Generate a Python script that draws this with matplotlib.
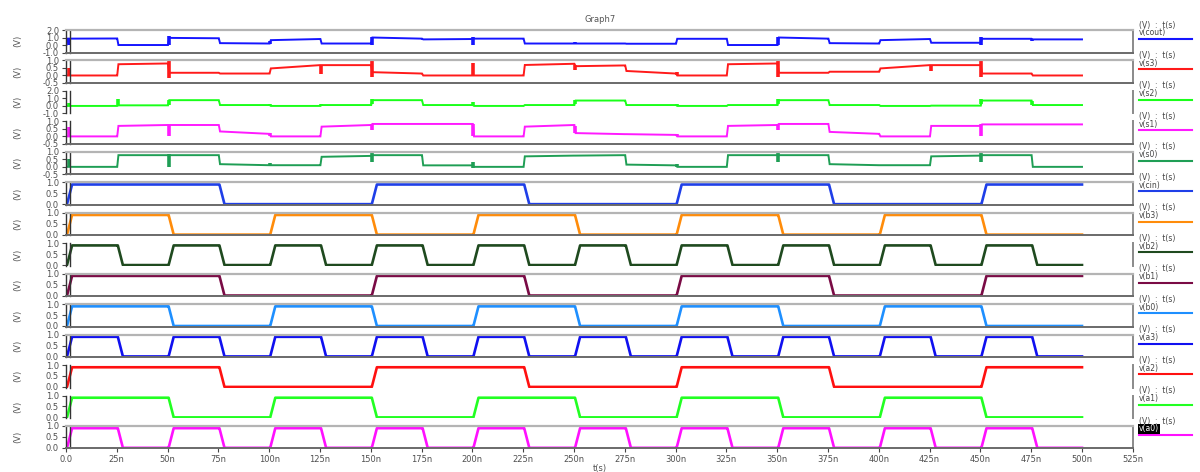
import numpy as np
import matplotlib
matplotlib.use("Agg")
import matplotlib.pyplot as plt
from matplotlib.lines import Line2D

SLOT = 25.0  # ns per input step

# input bits, one per 25 ns step (0..500 ns)
a0 = [1, 0, 1, 0, 1, 0, 1, 0, 1, 0, 1, 0, 1, 0, 1, 0, 1, 0, 1, 0]
a1 = [1, 1, 0, 0, 1, 1, 0, 0, 1, 1, 0, 0, 1, 1, 0, 0, 1, 1, 0, 0]
a2 = [1, 1, 1, 0, 0, 0, 1, 1, 1, 0, 0, 0, 1, 1, 1, 0, 0, 0, 1, 1]
a3 = [1, 0, 1, 0, 1, 0, 1, 0, 1, 0, 1, 0, 1, 0, 1, 0, 1, 0, 1, 0]
b0 = [1, 1, 0, 0, 1, 1, 0, 0, 1, 1, 0, 0, 1, 1, 0, 0, 1, 1, 0, 0]
b1 = [1, 1, 1, 0, 0, 0, 1, 1, 1, 0, 0, 0, 1, 1, 1, 0, 0, 0, 1, 1]
b2 = [1, 0, 1, 0, 1, 0, 1, 0, 1, 0, 1, 0, 1, 0, 1, 0, 1, 0, 1, 0]
b3 = [1, 1, 0, 0, 1, 1, 0, 0, 1, 1, 0, 0, 1, 1, 0, 0, 1, 1, 0, 0]
cin = [1, 1, 1, 0, 0, 0, 1, 1, 1, 0, 0, 0, 1, 1, 1, 0, 0, 0, 1, 1]
v_high = 0.9

# outputs: (level at start of step, level at end of step)
cout = [(0.85, 0.87), (0.0, 0.0), (0.95, 0.9), (0.25, 0.2), (0.65, 0.8),
        (0.2, 0.2), (1.0, 0.85), (0.75, 0.8), (0.85, 0.85), (0.2, 0.2),
        (0.2, 0.2), (0.17, 0.17), (0.83, 0.83), (0.0, 0.0), (1.0, 0.85),
        (0.25, 0.2), (0.65, 0.8), (0.3, 0.3), (0.83, 0.83), (0.75, 0.75)]
s3 = [(0.0, 0.0), (0.75, 0.8), (0.18, 0.18), (0.13, 0.13), (0.47, 0.69),
      (0.69, 0.69), (0.22, 0.13), (0.0, 0.0), (0.0, 0.0), (0.7, 0.78),
      (0.62, 0.67), (0.3, 0.13), (0.0, 0.0), (0.75, 0.8), (0.18, 0.18),
      (0.25, 0.25), (0.47, 0.69), (0.69, 0.69), (0.13, 0.13), (0.0, 0.0)]
s2 = [(0.0, 0.0), (0.08, 0.08), (0.77, 0.77), (0.12, 0.12), (0.0, 0.0),
      (0.12, 0.12), (0.77, 0.77), (0.12, 0.12), (0.0, 0.0), (0.12, 0.12),
      (0.72, 0.72), (0.12, 0.12), (0.0, 0.0), (0.12, 0.12), (0.77, 0.77),
      (0.12, 0.12), (0.0, 0.0), (0.04, 0.04), (0.72, 0.72), (0.12, 0.12)]
s1 = [(0.0, 0.0), (0.7, 0.76), (0.76, 0.76), (0.33, 0.17), (0.0, 0.0),
      (0.65, 0.76), (0.83, 0.83), (0.83, 0.83), (0.0, 0.0), (0.65, 0.76),
      (0.22, 0.15), (0.15, 0.1), (0.0, 0.0), (0.7, 0.76), (0.83, 0.83),
      (0.3, 0.17), (0.0, 0.0), (0.7, 0.7), (0.8, 0.8), (0.8, 0.8)]
s0 = [(0.0, 0.0), (0.78, 0.78), (0.78, 0.78), (0.18, 0.11), (0.11, 0.11),
      (0.67, 0.73), (0.78, 0.78), (0.1, 0.1), (0.0, 0.0), (0.7, 0.75),
      (0.75, 0.78), (0.15, 0.1), (0.0, 0.0), (0.78, 0.78), (0.78, 0.78),
      (0.18, 0.11), (0.11, 0.11), (0.7, 0.75), (0.78, 0.78), (0.0, 0.0)]

# switching glitches: (time ns, low, high)
cout_glitch = [(1, 0.0, 0.8), (50, 0.0, 1.2), (100, 0.2, 0.5), (150, 0.0, 1.1),
               (175, 0.65, 0.8), (200, 0.0, 1.1), (250, 0.2, 0.45),
               (275, 0.15, 0.3), (350, 0.0, 1.1), (450, 0.0, 1.1),
               (475, 0.6, 0.8)]
s3_glitch = [(1, 0.0, 0.5), (50, -0.2, 1.0), (125, 0.1, 0.69), (150, -0.1, 1.0),
             (200, 0.0, 0.85), (250, 0.35, 0.73), (300, 0.0, 0.2),
             (350, -0.1, 1.0), (425, 0.3, 0.69), (450, -0.1, 1.0)]
s2_glitch = [(1, 0.0, 0.4), (25, 0.08, 0.9), (50, 0.1, 0.8), (100, 0.0, 0.3),
             (125, 0.0, 0.3), (150, 0.3, 0.9), (200, 0.0, 0.5),
             (250, 0.2, 0.8), (300, 0.0, 0.3), (350, 0.3, 0.9),
             (450, 0.3, 0.9), (475, 0.12, 0.72)]
s1_glitch = [(1, 0.0, 0.6), (50, 0.0, 0.76), (100, 0.0, 0.2), (150, 0.4, 0.85),
             (200, 0.0, 0.83), (250, 0.2, 0.7), (300, 0.0, 0.15),
             (350, 0.4, 0.85), (450, 0.0, 0.8)]
s0_glitch = [(1, 0.0, 0.5), (50, 0.0, 0.85), (100, 0.11, 0.25), (150, 0.3, 0.9),
             (200, -0.1, 0.3), (300, 0.0, 0.2), (350, 0.3, 0.9),
             (450, 0.3, 0.9)]

names = ["v(cout)", "v(s3)", "v(s2)", "v(s1)", "v(s0)", "v(cin)", "v(b3)",
         "v(b2)", "v(b1)", "v(b0)", "v(a3)", "v(a2)", "v(a1)", "v(a0)"]
colors = ["#1515ff", "#ff1a1a", "#1aff1a", "#ff1aff", "#1f9e55", "#1f3fe8",
          "#ff8c0a", "#1f4a1f", "#7a0b45", "#1e8fff", "#1010f0", "#ff1010",
          "#22ff22", "#ff10ff"]
ylims = [(-1.0, 2.0), (-0.5, 1.0), (-1.0, 2.0), (-0.5, 1.0), (-0.5, 1.0)]
yticks = [[-1.0, 0.0, 1.0, 2.0], [-0.5, 0.0, 0.5, 1.0], [-1.0, 0.0, 1.0, 2.0],
          [-0.5, 0.0, 0.5, 1.0], [-0.5, 0.0, 0.5, 1.0]]
# which frame lines are shown per panel (top, bottom)
frames = [(1, 1), (1, 1), (0, 0), (0, 1), (1, 1), (1, 1), (1, 1), (0, 0),
          (1, 1), (1, 1), (1, 1), (0, 0), (0, 0), (1, 1)]


def step_trace(levels, delay, edge):
    ts, vs = [0.0], [0.0]
    prev = 0.0
    for k, (v0, v1) in enumerate(levels):
        t0 = k * SLOT
        ts += [t0 + delay, t0 + delay + edge, t0 + SLOT]
        vs += [prev, v0, v1]
        prev = v1
    return np.array(ts), np.array(vs)


outputs = [cout, s3, s2, s1, s0]
glitches = [cout_glitch, s3_glitch, s2_glitch, s1_glitch, s0_glitch]
inputs = [cin, b3, b2, b1, b0, a3, a2, a1, a0]

fig = plt.figure(figsize=(12, 4.72), dpi=100)
gs = fig.add_gridspec(14, 1, left=0.055, right=0.944, top=0.9364,
                      bottom=0.0498, hspace=0.354)
axes = [fig.add_subplot(gs[i]) for i in range(14)]

tick_kw = dict(labelsize=6, labelcolor="#505050", color="#444444",
               length=3, width=0.8, pad=2)

for i, ax in enumerate(axes):
    c = colors[i]
    if i < 5:
        t, v = step_trace(outputs[i], 0.2, 0.6)
        ax.plot(t, v, color=c, lw=1.4, solid_joinstyle="miter")
        for tg, lo, hi in glitches[i]:
            ax.vlines(tg + 0.5, lo, hi, color=c, lw=2.6)
        ax.set_ylim(*ylims[i])
        ax.set_yticks(yticks[i])
        ax.set_yticklabels(["%.1f" % y for y in yticks[i]])
    else:
        bits = inputs[i - 5]
        t, v = step_trace([(b * v_high, b * v_high) for b in bits], 0.5, 2.5)
        ax.plot(t, v, color=c, lw=1.9)
        ax.set_ylim(-0.03, 1.0)
        ax.set_yticks([0.0, 0.5, 1.0])
        ax.set_yticklabels(["0.0", "0.5", "1.0"])

    ax.set_xlim(0, 525)
    ax.set_xticks(np.arange(0, 526, 25))
    ax.tick_params(axis="y", **tick_kw)
    ax.tick_params(axis="x", **tick_kw)
    if i < 13:
        ax.tick_params(axis="x", labelbottom=False, length=0)
    else:
        ax.set_xticklabels(["0.0"] + ["%dn" % x for x in range(25, 526, 25)])
        ax.set_xlabel("t(s)", fontsize=6, color="#505050", labelpad=0)

    show_top, show_bot = frames[i]
    ax.spines["top"].set_color("#b4b4b4")
    ax.spines["top"].set_linewidth(1.6)
    ax.spines["top"].set_visible(bool(show_top))
    ax.spines["bottom"].set_color("#6a6a6a")
    ax.spines["bottom"].set_linewidth(1.4)
    ax.spines["bottom"].set_visible(bool(show_bot))
    ax.spines["right"].set_color("#8a8a8a")
    ax.spines["right"].set_linewidth(1.4)
    ax.spines["left"].set_color("#333333")
    ax.spines["left"].set_linewidth(1.0)
    # second rule just inside the left axis
    ax.add_line(Line2D([0.004, 0.004], [0, 1], transform=ax.transAxes,
                       color="#333333", lw=1.0, clip_on=False))

    ax.set_ylabel("(V)", fontsize=6, color="#555555", rotation=90,
                  labelpad=0)
    ax.yaxis.set_label_coords(-0.041, 0.5)

    # trace key on the right
    ax.text(1.0056, 1.22, "(V)  :  t(s)", transform=ax.transAxes,
            fontsize=5.5, color="#444444", va="center", ha="left")
    box = dict(boxstyle="square,pad=0.1", fc="black", ec="none") if i == 13 else None
    ax.text(1.0056, 0.87, names[i], transform=ax.transAxes, fontsize=5.5,
            color="white" if i == 13 else "#444444", va="center", ha="left",
            bbox=box)
    ax.add_line(Line2D([1.0056, 1.0553], [0.6, 0.6], transform=ax.transAxes,
                       color=c, lw=1.5, clip_on=False))

fig.text(0.5, 0.958, "Graph7", ha="center", va="center", fontsize=6,
         color="#555555")

fig.savefig("out.png", dpi=100)
